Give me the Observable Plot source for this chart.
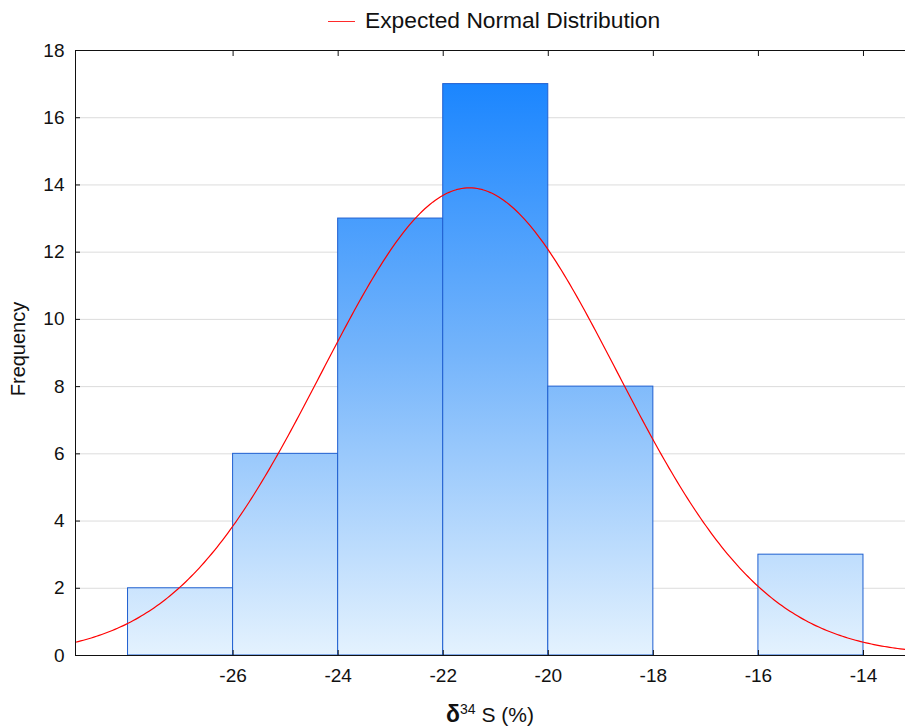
<!DOCTYPE html>
<html>
<head>
<meta charset="utf-8">
<script src="https://cdn.jsdelivr.net/npm/d3@7"></script>
<script src="https://cdn.jsdelivr.net/npm/@observablehq/plot@0.6"></script>
<style>
  body { margin: 0; background: #fff; font-family: "Liberation Sans", Arial, sans-serif; }
  #wrap { width: 905px; position: relative; }
  #legend { height: 40px; position: relative; }
  #legend .sw { position: absolute; left: 328px; top: 21px; width: 27px; height: 1px; background: #ff2a2a; }
  #legend .tx { position: absolute; left: 365px; top: 7px; font-size: 22.8px; color: #111; white-space: nowrap; }
  #caption { height: 37px; position: relative; }
  #caption .tx { position: absolute; left: 0; width: 980px; text-align: center; top: 11px; font-size: 21px; color: #111; }
  #caption b { font-weight: bold; font-size: 23px; }
  #caption sup { font-size: 14px; vertical-align: 8px; line-height: 0; }
</style>
</head>
<body>
<div id="wrap">
  <div id="legend"><div class="sw"></div><div class="tx">Expected Normal Distribution</div></div>
  <div id="chart"></div>
  <div id="caption"><div class="tx"><b>δ</b><sup>34</sup> S (%)</div></div>
</div>
<script>
// Histogram bins (lower edge, upper edge) and counts
const binStart = [-28, -26, -24, -22, -20, -18, -16];
const binEnd   = [-26, -24, -22, -20, -18, -16, -14];
const counts   = [2, 6, 13, 17, 8, 0, 3];
// Expected normal distribution parameters
const normMean = -21.5;
const normSd = 2.81;
const normN = 49;
const binWidth = 2;
// Tick labels
const xTicks = [-26, -24, -22, -20, -18, -16, -14];
const yTicks = [0, 2, 4, 6, 8, 10, 12, 14, 16, 18];
const xDomain = [-29, -13.2];

const bars = binStart.map((s, i) => ({x1: s, x2: binEnd[i], y: counts[i]})).filter(d => d.y > 0);

const curve = d3.range(xDomain[0], xDomain[1] + 0.001, 0.05).map(x => ({
  x,
  y: normN * binWidth / (normSd * Math.sqrt(2 * Math.PI)) * Math.exp(-((x - normMean) ** 2) / (2 * normSd ** 2))
}));

const W = 905, H = 650, mT = 10, mB = 35, mL = 75, mR = 0;
const fmt = d => String(d);

const plot = Plot.plot({
  width: W, height: H,
  marginTop: mT, marginBottom: mB, marginLeft: mL, marginRight: mR,
  style: { fontFamily: '"Liberation Sans", Arial, sans-serif', fontSize: "19px", color: "#111", background: "#fff" },
  x: { domain: xDomain },
  y: { domain: [0, 18] },
  marks: [
    Plot.gridY(yTicks.filter(d => d > 0 && d < 18), { stroke: "#dcdcdc", strokeOpacity: 1 }),
    Plot.rectY(bars, { x1: "x1", x2: "x2", y: "y", fill: "url(#barGrad)", stroke: "#1f5fd0", strokeWidth: 1 }),
    Plot.line(curve, { x: "x", y: "y", stroke: "#ff0000", strokeWidth: 1.2 }),
    Plot.ruleY([0], { stroke: "#111" }),
    Plot.ruleY([18], { stroke: "#111" }),
    Plot.ruleX([xDomain[0]], { stroke: "#111" }),
    Plot.axisX(xTicks, { anchor: "bottom", tickSize: 0, tickPadding: 13, label: null, fontSize: 19, tickFormat: fmt }),
    Plot.axisX(xTicks, { anchor: "bottom", tickSize: -5, tickFormat: () => "", label: null, stroke: "#111" }),
    Plot.axisX(xTicks, { anchor: "top", tickSize: -5, tickFormat: () => "", label: null, stroke: "#111" }),
    Plot.axisY(yTicks, { anchor: "left", tickSize: 0, tickPadding: 11, label: null, fontSize: 19, tickFormat: fmt }),
    Plot.axisY(yTicks, { anchor: "left", tickSize: -5, tickFormat: () => "", label: null, stroke: "#111" }),
    Plot.text(["Frequency"], { frameAnchor: "left", textAnchor: "middle", dx: -57, dy: -4, rotate: -90, fontSize: 20, fill: "#111" })
  ]
});

// gradient definition spanning the plot height
const ns = "http://www.w3.org/2000/svg";
const svg = plot.tagName.toLowerCase() === "svg" ? plot : plot.querySelector("svg");
const defs = document.createElementNS(ns, "defs");
const grad = document.createElementNS(ns, "linearGradient");
grad.setAttribute("id", "barGrad");
grad.setAttribute("gradientUnits", "userSpaceOnUse");
grad.setAttribute("x1", 0); grad.setAttribute("x2", 0);
grad.setAttribute("y1", mT); grad.setAttribute("y2", H - mB);
[["0%", "#1080ff"], ["50%", "#74b4fb"], ["100%", "#e4f2fe"]].forEach(([o, c]) => {
  const s = document.createElementNS(ns, "stop");
  s.setAttribute("offset", o); s.setAttribute("stop-color", c);
  grad.appendChild(s);
});
defs.appendChild(grad);
svg.insertBefore(defs, svg.firstChild);

document.getElementById("chart").appendChild(plot);
</script>
</body>
</html>
